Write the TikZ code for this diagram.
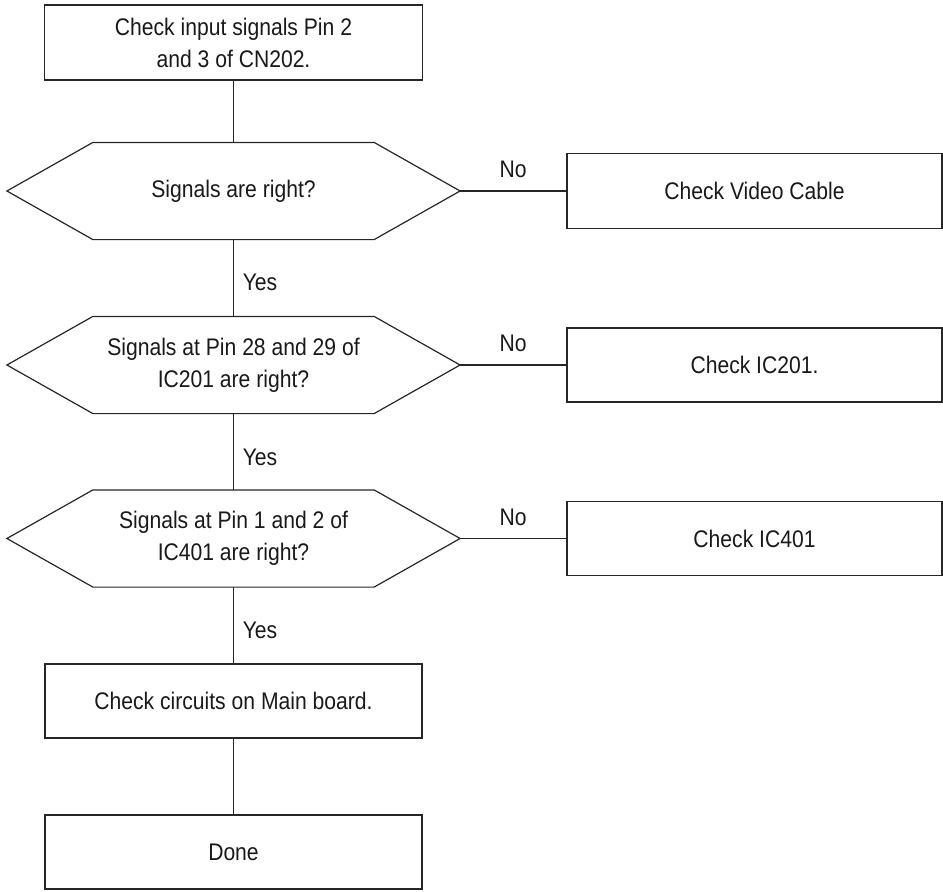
\documentclass[tikz,border=0pt]{standalone}
\usepackage{fontspec}
\setmainfont{Liberation Sans}[FakeStretch=0.88]
\begin{document}
\begin{tikzpicture}[x=1pt,y=-1pt,line width=1.2pt,
  txt/.style={font=\fontsize{24}{32}\selectfont,text=black!90},
  box/.style={txt,draw=black!85,rectangle,inner sep=0pt,align=center},
  dec/.style={txt,rectangle,inner sep=0pt,align=center,minimum width=452pt,minimum height=96pt},
  lbl/.style={txt,inner sep=0pt},
  conn/.style={draw=black!85}]
\useasboundingbox (0,0) rectangle (943,892);
% main column
\node[box,minimum width=378pt,minimum height=75pt] (start) at (233.5,42.5) {Check input signals Pin 2\\and 3 of CN202.};
\node[dec] (d1) at (233.5,191) {Signals are right?};
\node[dec] (d2) at (233.5,365) {Signals at Pin 28 and 29 of\\IC201 are right?};
\node[dec] (d3) at (233.5,538.5) {Signals at Pin 1 and 2 of\\IC401 are right?};
\node[box,minimum width=377pt,minimum height=74pt] (main) at (233.5,701) {Check circuits on Main board.};
\node[box,minimum width=377pt,minimum height=74pt] (done) at (233.5,852) {Done};
% right column
\node[box,minimum width=375pt,minimum height=75pt] (r1) at (754.5,191) {Check Video Cable};
\node[box,minimum width=375pt,minimum height=74pt] (r2) at (754.5,365) {Check IC201.};
\node[box,minimum width=375pt,minimum height=74pt] (r3) at (754.5,538.5) {Check IC401};
% hexagons
\foreach \n in {d1,d2,d3}
  \draw[conn] (\n.west) -- ([xshift=86pt]\n.north west) -- ([xshift=-86pt]\n.north east)
     -- (\n.east) -- ([xshift=-86pt]\n.south east) -- ([xshift=86pt]\n.south west) -- cycle;
% connectors
\draw[conn] (start.south) -- (d1.north);
\draw[conn] (d1.south) -- (d2.north);
\draw[conn] (d2.south) -- (d3.north);
\draw[conn] (d3.south) -- (main.north);
\draw[conn] (main.south) -- (done.north);
\draw[conn] (d1.east) -- (r1.west);
\draw[conn] (d2.east) -- (r2.west);
\draw[conn] (d3.east) -- (r3.west);
% labels
\node[lbl] (no1) at (513,169) {No};
\node[lbl] (no2) at (513,343) {No};
\node[lbl] (no3) at (513,517) {No};
\node[lbl] (yes1) at (260,282) {Yes};
\node[lbl] (yes2) at (260,457) {Yes};
\node[lbl] (yes3) at (260,630) {Yes};
\end{tikzpicture}
\end{document}
